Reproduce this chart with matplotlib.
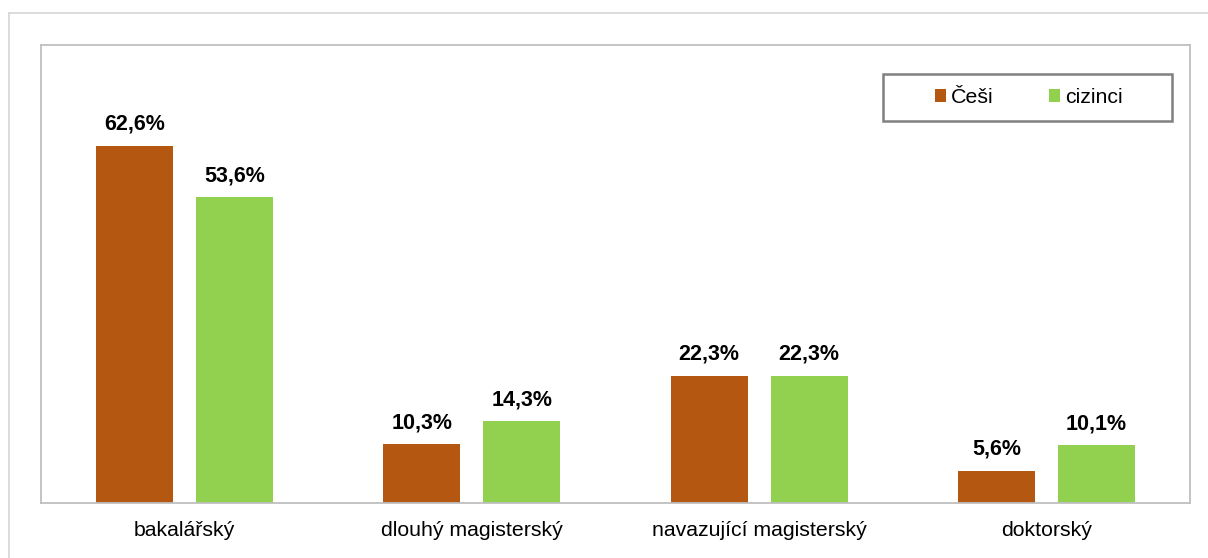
import matplotlib
matplotlib.use("Agg")
import matplotlib.pyplot as plt
import numpy as np
from matplotlib.lines import Line2D
from matplotlib.patches import Patch, Rectangle

plt.rcParams['font.family'] = ['Liberation Sans', 'DejaVu Sans']

categories = ["bakalářský", "dlouhý magisterský", "navazující magisterský", "doktorský"]
cesi = [62.6, 10.3, 22.3, 5.6]
cizinci = [53.6, 14.3, 22.3, 10.1]
series_names = ["Češi", "cizinci"]
colors = ["#B35711", "#92D050"]

W, H = 1208, 558
fig = plt.figure(figsize=(W/100, H/100), dpi=100)
ax = fig.add_axes([41/W, 1-503/H, (1190-41)/W, (503-45)/H])

x = np.arange(len(categories))
bw = 0.268
off = 0.174
b1 = ax.bar(x - off, cesi, bw, color=colors[0], label=series_names[0])
b2 = ax.bar(x + off, cizinci, bw, color=colors[1], label=series_names[1])

for bars, vals in ((b1, cesi), (b2, cizinci)):
    for rect, v in zip(bars, vals):
        ax.annotate(f"{v:.1f}%".replace(".", ","),
                    (rect.get_x() + rect.get_width()/2, rect.get_height()),
                    xytext=(0, 8), textcoords="offset points",
                    ha="center", va="bottom", fontsize=15.5, fontweight="bold")

ax.set_xlim(-0.5, len(categories) - 0.5)
ax.set_ylim(0, 80.3)
ax.set_yticks([])
ax.set_xticks(x)
ax.set_xticklabels(categories, fontsize=15.3)
ax.tick_params(axis="x", length=0, pad=13)
for s in ax.spines.values():
    s.set_color("#BFBFBF")
    s.set_linewidth(1.3)

# legend box
fig.add_artist(Rectangle((883/W, 1-121/H), (1172-883)/W, (121-74)/H,
                         transform=fig.transFigure, facecolor="white",
                         edgecolor="#808080", linewidth=1.8, zorder=5))
handles = [Patch(facecolor=c, edgecolor='none') for c in colors]
leg = fig.legend(handles, series_names, loc="center",
                 bbox_to_anchor=(1029/W, 1-97.5/H),
                 ncol=2, fontsize=15.3, frameon=False,
                 handlelength=0.5, handleheight=0.5, handletextpad=0.25,
                 columnspacing=2.6, borderpad=0, borderaxespad=0)
leg.set_zorder(6)

# outer chart frame
fig.add_artist(Line2D([9/W, 9/W], [0, 1-13/H], transform=fig.transFigure, color="#D9D9D9", lw=1.3))
fig.add_artist(Line2D([9/W, 1], [1-13/H, 1-13/H], transform=fig.transFigure, color="#D9D9D9", lw=1.3))

fig.savefig("out.png", dpi=100)
